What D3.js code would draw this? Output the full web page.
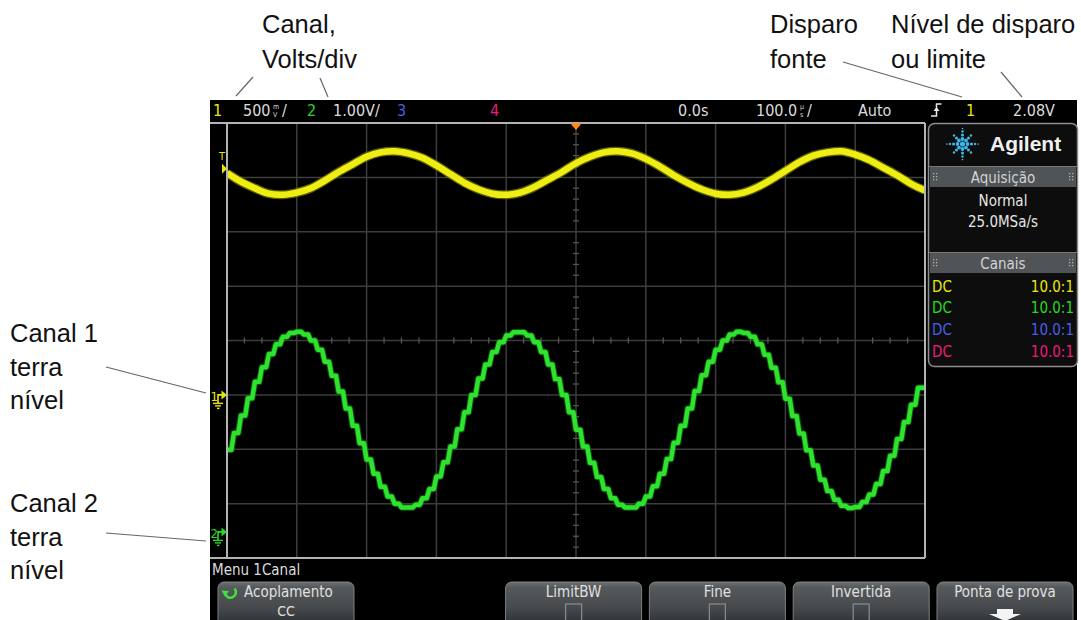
<!DOCTYPE html>
<html><head><meta charset="utf-8">
<script src="https://cdn.jsdelivr.net/npm/d3@7"></script>
<style>html,body{margin:0;padding:0;background:#fff;}svg{display:block}</style>
</head><body><svg id="c" width="1081" height="620"></svg>
<script>
// ---------------- DATA ----------------
const timeDomainUs = [-500, 500];          // 100 us/div, 10 divisions
const ch1DomainV = [-1.5, 2.5];            // 500 mV/div, 8 divisions
const ch2DomainV = [-0.48, 7.52];          // 1.00 V/div, 8 divisions
const triggerLevelV = 2.08;
const ch1StartUs = -500, ch1StepUs = 20;
const ch1Volts = [2.04,1.96,1.90,1.85,1.84,1.86,1.90,1.97,2.05,2.12,2.19,2.23,2.24,2.22,2.18,2.11,2.03,1.95,1.89,1.85,1.84,1.86,1.91,1.98,2.05,2.13,2.19,2.23,2.24,2.22,2.17,2.10,2.02,1.95,1.89,1.85,1.84,1.86,1.91,1.98,2.06,2.14,2.20,2.23,2.24,2.21,2.16,2.09,2.02,1.94,1.88];
const ch2StartUs = -500, ch2StepUs = 10;
const ch2Volts = [1.51,1.82,2.14,2.46,2.76,3.03,3.27,3.45,3.59,3.66,3.68,3.63,3.52,3.35,3.13,2.87,2.58,2.27,1.95,1.63,1.33,1.07,0.83,0.65,0.52,0.45,0.45,0.50,0.62,0.79,1.02,1.28,1.57,1.89,2.20,2.52,2.82,3.08,3.31,3.49,3.61,3.67,3.67,3.61,3.49,3.31,3.08,2.81,2.52,2.20,1.88,1.57,1.27,1.01,0.79,0.62,0.50,0.45,0.45,0.52,0.65,0.84,1.07,1.34,1.64,1.95,2.27,2.59,2.88,3.13,3.35,3.52,3.63,3.68,3.66,3.59,3.45,3.26,3.02,2.75,2.45,2.13,1.81,1.50,1.22,0.96,0.75,0.59,0.48,0.44,0.46,0.55,0.69,0.88,1.12,1.40,1.71,2.02,2.34,2.65,2.65];
const channelNames = ["1","2","3","4"];
const scaleLabels = ["500","1.00V/"];
const timeLabels = ["0.0s","100.0","Auto"];
const trigLabels = ["1","2.08V"];
const brandName = "Agilent";
const acqTitle = "Aquisição", acqLines = ["Normal","25.0MSa/s"];
const chanTitle = "Canais", couplings = ["DC","DC","DC","DC"], probes = ["10.0:1","10.0:1","10.0:1","10.0:1"];
const menuTitle = "Menu 1Canal";
const softkeys = ["Acoplamento","","LimitBW","Fine","Invertida","Ponta de prova"];
const softkeySub = ["CC","","box","box","box","arrow"];
const notesTop = [["Canal,","Volts/div"],["Disparo","fonte"],["Nível de disparo","ou limite"]];
const notesLeft = [["Canal 1","terra","nível"],["Canal 2","terra","nível"]];

// ---------------- LAYOUT ----------------
const chColors = ["#e8e810","#26d926","#4a5ee6","#ee1a7a"];
const scopeFont = "'Liberation Sans Narrow','DejaVu Sans Condensed',sans-serif";
const G = {l:227, r:925, t:123, b:558};
const x = d3.scaleLinear().domain(timeDomainUs).range([G.l, G.r]);
const y1 = d3.scaleLinear().domain(ch1DomainV).range([G.b, G.t]);
const y2 = d3.scaleLinear().domain(ch2DomainV).range([G.b, G.t]);

const svg = d3.select('#c');
const defs = svg.append('defs');
svg.append('rect').attr('width',1081).attr('height',620).attr('fill','#fff');
svg.append('rect').attr('x',210).attr('y',100).attr('width',867).attr('height',520).attr('fill','#000');

// annotations
const ann = svg.append('g').attr('font-family',"'Liberation Sans',Arial,sans-serif").attr('font-size',25.5).attr('fill','#111');
const topX = [262, 770, 891];
notesTop.forEach((ls,i)=>ls.forEach((s,j)=>ann.append('text').attr('x',topX[i]).attr('y',33+j*34.5).text(s)));
const leftY = [342, 512];
notesLeft.forEach((ls,i)=>ls.forEach((s,j)=>ann.append('text').attr('x',10).attr('y',leftY[i]+j*33.5).text(s)));
const lines = [[253,77,236,96],[320,78,328,97],[843,62,962,97],[1001,72,1022,97],[106,367,206,393],[106,533,206,541]];
lines.forEach(l=>svg.append('line').attr('x1',l[0]).attr('y1',l[1]).attr('x2',l[2]).attr('y2',l[3]).attr('stroke','#666').attr('stroke-width',1.2));

// status bar
const st = svg.append('g').attr('font-family',scopeFont).attr('font-size',16);
function T(g,s,xx,yy,c){return g.append('text').attr('x',xx).attr('y',yy).attr('fill',c).text(s);}
function stacked(g,a,b,xx){const t=g.append('text').attr('x',xx).attr('y',109).attr('font-size',7).attr('fill','#dcdcdc');
  t.append('tspan').attr('x',xx).text(a); t.append('tspan').attr('x',xx).attr('dy',7.5).text(b);}
const SY = 116;
T(st,channelNames[0],213,SY,chColors[0]);
T(st,scaleLabels[0],243,SY,'#dcdcdc');
stacked(st,'m','V',273);
T(st,'/',282,SY,'#dcdcdc');
T(st,channelNames[1],307,SY,chColors[1]);
T(st,scaleLabels[1],333,SY,'#dcdcdc');
T(st,channelNames[2],397,SY,chColors[2]);
T(st,channelNames[3],490,SY,chColors[3]);
T(st,timeLabels[0],678,SY,'#dcdcdc');
T(st,timeLabels[1],756,SY,'#dcdcdc');
stacked(st,'µ','s',800);
T(st,'/',807,SY,'#dcdcdc');
T(st,timeLabels[2],858,SY,'#dcdcdc');
st.append('path').attr('d','M931,116H936.5V104H941.5').attr('stroke','#e8e8e8').attr('stroke-width',1.5).attr('fill','none');
st.append('path').attr('d','M933.5,111L936.5,107L939.5,111Z').attr('fill','#e8e8e8');
T(st,trigLabels[0],966,SY,chColors[0]);
T(st,trigLabels[1],1013,SY,'#dcdcdc');

// grid
const grid = svg.append('g');
const vDivs = d3.range(-400,500,100);
const hDivs = d3.range(-1.0,2.5,0.5);
vDivs.forEach(t=>grid.append('line').attr('x1',x(t)).attr('x2',x(t)).attr('y1',G.t).attr('y2',G.b).attr('stroke','#3d3d3d').attr('stroke-width',1.5));
hDivs.forEach(v=>grid.append('line').attr('x1',G.l).attr('x2',G.r).attr('y1',y1(v)).attr('y2',y1(v)).attr('stroke','#3d3d3d').attr('stroke-width',1.5));
const yc = y1(0.5), xc = x(0);
d3.range(-500,500,25).forEach(t=>{ if(t%100!==0) grid.append('line').attr('x1',x(t)).attr('x2',x(t)).attr('y1',yc-3).attr('y2',yc+3).attr('stroke','#555').attr('stroke-width',1.3);});
d3.range(-1.5,2.5,0.1).forEach((v,i)=>{ if(i%5!==0) grid.append('line').attr('x1',xc-3).attr('x2',xc+3).attr('y1',y1(v)).attr('y2',y1(v)).attr('stroke','#555').attr('stroke-width',1.3);});
grid.append('line').attr('x1',210).attr('x2',G.r).attr('y1',G.t).attr('y2',G.t).attr('stroke','#b4b4b4').attr('stroke-width',2);
grid.append('line').attr('x1',210).attr('x2',G.r).attr('y1',G.b).attr('y2',G.b).attr('stroke','#b4b4b4').attr('stroke-width',2);
grid.append('line').attr('x1',G.l).attr('x2',G.l).attr('y1',G.t).attr('y2',G.b).attr('stroke','#b4b4b4').attr('stroke-width',2);
grid.append('line').attr('x1',G.r).attr('x2',G.r).attr('y1',G.t).attr('y2',G.b).attr('stroke','#b4b4b4').attr('stroke-width',2);

// traces
defs.append('clipPath').attr('id','clip').append('rect').attr('x',G.l+1).attr('y',G.t+1).attr('width',G.r-G.l-2).attr('height',G.b-G.t-2);
const tr = svg.append('g').attr('clip-path','url(#clip)');
const l1 = d3.line().x((d,i)=>x(ch1StartUs+i*ch1StepUs)).y(d=>y1(d)).curve(d3.curveCatmullRom);
// DAC staircase: each sample held, with a short slew to the next sample
const hold = 0.62;
const stairPts = [];
ch2Volts.forEach((v,i)=>{ const t0 = ch2StartUs+i*ch2StepUs; stairPts.push([t0,v]); if(i<ch2Volts.length-1) stairPts.push([t0+hold*ch2StepUs,v]); });
const l2 = d3.line().x(d=>x(d[0])).y(d=>y2(d[1]));
tr.append('path').attr('d',l2(stairPts)).attr('fill','none').attr('stroke','#129012').attr('stroke-width',6.5).attr('stroke-linejoin','round').attr('opacity',0.6);
tr.append('path').attr('d',l2(stairPts)).attr('fill','none').attr('stroke','#2ee22e').attr('stroke-width',4.5).attr('stroke-linejoin','round');
tr.append('path').attr('d',l1(ch1Volts)).attr('fill','none').attr('stroke','#a8a800').attr('stroke-width',9).attr('opacity',0.55);
tr.append('path').attr('d',l1(ch1Volts)).attr('fill','none').attr('stroke','#eeee14').attr('stroke-width',6.5);

// trigger position marker
svg.append('path').attr('d',`M${xc-6},${G.t}L${xc+6},${G.t}L${xc},${G.t+7}Z`).attr('fill','#ff8a1c');
// trigger level marker
const ty = y1(triggerLevelV);
svg.append('text').attr('x',219).attr('y',ty-9).attr('font-family',scopeFont).attr('font-size',11).attr('fill',chColors[0]).text('T');
svg.append('path').attr('d',`M222,${ty-5}L227,${ty}L222,${ty+5}Z`).attr('fill',chColors[0]);
// ground markers
function gnd(yy,label,c){
  const g = svg.append('g');
  g.append('text').attr('x',210.5).attr('y',yy+6).attr('font-family',scopeFont).attr('font-size',13).attr('fill',c).text(label);
  g.append('path').attr('d',`M218,${yy+8}V${yy}H222`).attr('stroke',c).attr('stroke-width',1.6).attr('fill','none');
  g.append('path').attr('d',`M221.5,${yy-4.5}L227,${yy}L221.5,${yy+4.5}Z`).attr('fill',c);
  [[213,223,8.5],[215,221,11],[217,219.5,13.5]].forEach(a=>g.append('line').attr('x1',a[0]).attr('x2',a[1]).attr('y1',yy+a[2]).attr('y2',yy+a[2]).attr('stroke',c).attr('stroke-width',1.4));
}
gnd(y1(0),channelNames[0],chColors[0]);
gnd(y2(0),channelNames[1],chColors[1]);

// right panel
const p = svg.append('g').attr('font-family',scopeFont);
p.append('rect').attr('x',928.5).attr('y',123.5).attr('width',149).attr('height',243).attr('rx',6).attr('fill','#0d0d0d').attr('stroke','#8e8e8e').attr('stroke-width',1.5);
p.append('rect').attr('x',930).attr('y',167).attr('width',146).attr('height',20).attr('fill','#505456');
p.append('rect').attr('x',930).attr('y',253).attr('width',146).attr('height',20).attr('fill','#505456');
p.append('line').attr('x1',929).attr('x2',1077).attr('y1',166.5).attr('y2',166.5).attr('stroke','#777');
p.append('line').attr('x1',929).attr('x2',1077).attr('y1',252.5).attr('y2',252.5).attr('stroke','#777');
[167,253].forEach(yy=>[933,1069].forEach(xx=>{for(let i=0;i<2;i++)for(let j=0;j<3;j++)p.append('rect').attr('x',xx+i*3).attr('y',yy+6+j*3).attr('width',1.3).attr('height',1.3).attr('fill','#b0b0b0');}));
const lc=[962.5,144];
p.append('circle').attr('cx',lc[0]).attr('cy',lc[1]).attr('r',2.6).attr('fill','#3ab6ea');
for(let a=0;a<8;a++){const ang=a*Math.PI/4; const rs = a%2===0?[5,9,12.5,15.5]:[5,8.5,12]; rs.forEach((r,k)=>p.append('circle').attr('cx',lc[0]+r*Math.cos(ang)).attr('cy',lc[1]+r*Math.sin(ang)).attr('r',1.9-k*0.35).attr('fill','#3ab6ea'));}
p.append('text').attr('x',990).attr('y',151).attr('font-family',"'Liberation Sans',Arial,sans-serif").attr('font-weight','bold').attr('font-size',21).attr('fill','#f0f0f0').text(brandName);
p.append('text').attr('x',1003).attr('y',183).attr('text-anchor','middle').attr('font-size',15).attr('fill','#d2d2d2').text(acqTitle);
acqLines.forEach((s,i)=>p.append('text').attr('x',1003).attr('y',206+i*21).attr('text-anchor','middle').attr('font-size',15).attr('fill','#e6e6e6').text(s));
p.append('text').attr('x',1003).attr('y',269).attr('text-anchor','middle').attr('font-size',15).attr('fill','#d2d2d2').text(chanTitle);
couplings.forEach((s,i)=>{
  p.append('text').attr('x',932).attr('y',291.5+i*21.7).attr('font-size',15).attr('fill',chColors[i]).text(s);
  p.append('text').attr('x',1074).attr('y',291.5+i*21.7).attr('text-anchor','end').attr('font-size',15).attr('fill',chColors[i]).text(probes[i]);
});

// menu + softkeys
const m = svg.append('g').attr('font-family',scopeFont);
m.append('text').attr('x',212).attr('y',575).attr('font-size',15).attr('fill','#dcdcdc').text(menuTitle);
const gr = defs.append('linearGradient').attr('id','btn').attr('x1',0).attr('x2',0).attr('y1',0).attr('y2',1);
[[0,'#6e7274'],[0.12,'#55595b'],[0.6,'#45494b'],[1,'#2a2d2f']].forEach(s=>gr.append('stop').attr('offset',s[0]).attr('stop-color',s[1]));
softkeys.forEach((s,i)=>{
  if(!s) return;
  const bx = 218 + i*143.8, bw = 136, cx = bx + bw/2;
  m.append('rect').attr('x',bx).attr('y',582).attr('width',bw).attr('height',44).attr('rx',6).attr('fill','url(#btn)').attr('stroke','#7c8082').attr('stroke-width',1);
  const sub = softkeySub[i];
  if(i===0){
    m.append('text').attr('x',244).attr('y',597).attr('font-size',15).attr('fill','#e0e0e0').text(s);
    m.append('path').attr('d','M234.5,588.5A5.5,5.5 0 1 1 225,593').attr('stroke','#3fe03f').attr('stroke-width',2.6).attr('fill','none');
    m.append('path').attr('d','M221.5,590.5L225,596.5L229,591Z').attr('fill','#3fe03f');
    m.append('text').attr('x',cx).attr('y',616).attr('text-anchor','middle').attr('font-size',14).attr('fill','#e0e0e0').text(sub);
  } else {
    m.append('text').attr('x',cx).attr('y',597).attr('text-anchor','middle').attr('font-size',15).attr('fill','#e0e0e0').text(s);
    if(sub==='box') m.append('rect').attr('x',cx-8).attr('y',604).attr('width',16).attr('height',17).attr('fill','none').attr('stroke','#85898b').attr('stroke-width',1.3);
    if(sub==='arrow') m.append('path').attr('d',`M${cx-8},609H${cx+8}V614H${cx+16}L${cx},621L${cx-16},614H${cx-8}Z`).attr('fill','#f4f4f4');
  }
});
</script></body></html>
